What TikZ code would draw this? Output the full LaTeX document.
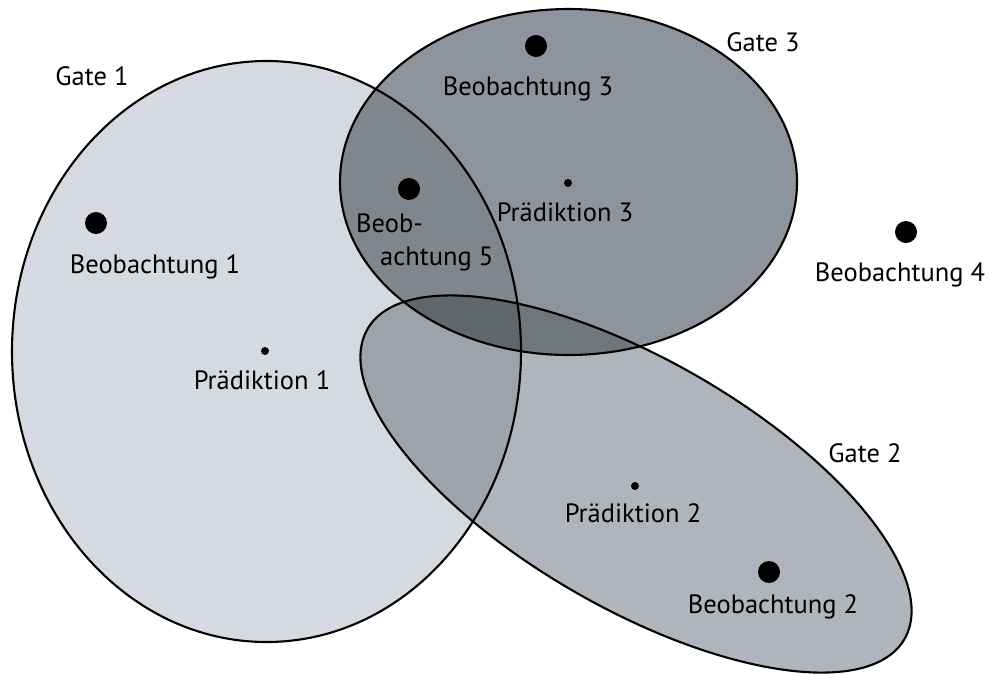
\documentclass[tikz,border=0pt]{standalone}
\usepackage{fontspec}
\setmainfont{PT Sans}
\definecolor{gA}{HTML}{D6D9E0}
\definecolor{gB}{HTML}{B0B5BC}
\definecolor{gC}{HTML}{8E949B}
\definecolor{gAC}{HTML}{7F868C}
\definecolor{gAB}{HTML}{9EA3A9}
\definecolor{gBC}{HTML}{6F7779}
\definecolor{gABC}{HTML}{5F6768}
\begin{document}
\begin{tikzpicture}[x=1pt,y=-1pt,
  outline/.style={draw=black, line width=2.1pt},
  lbl/.style={anchor=base, inner sep=0pt, font=\fontsize{26.5}{30}\selectfont},
  lblw/.style={lbl, anchor=base west},
  big/.style={circle, fill=black, inner sep=0pt, minimum size=22pt},
  small/.style={circle, fill=black, inner sep=0pt, minimum size=8pt},
  rotB/.style={rotate around={-30:(636,484)}}]
\useasboundingbox (0,0) rectangle (992,673);
\def\pA{(266.5,351.5) ellipse [x radius=254.5, y radius=290.5]}
\def\pC{(568.5,182) ellipse [x radius=228.5, y radius=173]}
\def\pB{(636,484) ellipse [x radius=310, y radius=124]}
% fills
\fill[gA] \pA;
\fill[gC] \pC;
\fill[gB, rotB] \pB;
\begin{scope}
  \clip \pA;
  \fill[gAC] \pC;
  \fill[gAB, rotB] \pB;
\end{scope}
\begin{scope}
  \clip[rotB] \pB;
  \fill[gBC] \pC;
  \clip \pA;
  \fill[gABC] \pC;
\end{scope}
% outlines
\draw[outline] \pA;
\draw[outline] \pC;
\draw[outline, rotB] \pB;
% points
\node[big] (b1) at (96,223) {};
\node[big] (b2) at (769,572) {};
\node[big] (b3) at (536,46) {};
\node[big] (b4) at (906,232) {};
\node[big] (b5) at (409,189) {};
\node[small] (p1) at (265,351) {};
\node[small] (p2) at (635,486) {};
\node[small] (p3) at (568,183) {};
% labels
\node[lbl] (g1) at (92,85) {Gate 1};
\node[lbl] (g2) at (865,462) {Gate 2};
\node[lbl] (g3) at (763,51) {Gate 3};
\node[lbl] (tb1) at (155,273) {Beobachtung 1};
\node[lbl] (tb2) at (773,613) {Beobachtung 2};
\node[lbl] (tb3) at (528,95) {Beobachtung 3};
\node[lbl] (tb4) at (900,281) {Beobachtung 4};
\node[lblw] (tb5a) at (356,232) {Beob-};
\node[lblw] (tb5b) at (380,265) {achtung 5};
\node[lbl] (tp1) at (262,389) {Prädiktion 1};
\node[lbl] (tp2) at (633,522) {Prädiktion 2};
\node[lbl] (tp3) at (565,221) {Prädiktion 3};
\end{tikzpicture}
\end{document}
